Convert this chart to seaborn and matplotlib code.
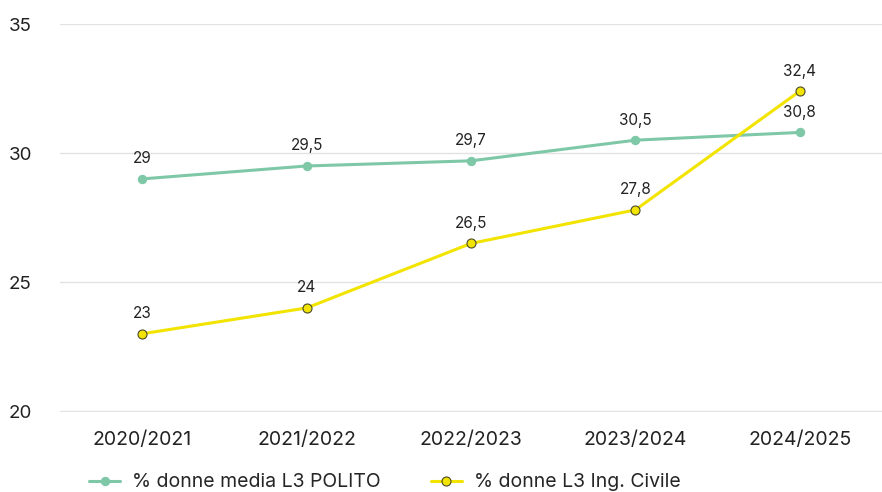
import pandas as pd
import seaborn as sns
import matplotlib.pyplot as plt

anni = ["2020/2021", "2021/2022", "2022/2023", "2023/2024", "2024/2025"]
polito = [29, 29.5, 29.7, 30.5, 30.8]
civile = [23, 24, 26.5, 27.8, 32.4]

sns.set_style("white")
plt.rcParams['font.family'] = ['Inter', 'DejaVu Sans']

fig = plt.figure(figsize=(8.82, 4.92), dpi=100)
ax = fig.add_axes([0.068, 0.1626, 0.932, 0.7886])

x = list(range(len(anni)))
sns.lineplot(x=x, y=polito, ax=ax, color="#7ec8a8", linewidth=2.2, marker="o",
             markersize=6, markeredgecolor="#7ec8a8", label="% donne media L3 POLITO")
sns.lineplot(x=x, y=civile, ax=ax, color="#f2e400", linewidth=2.2, marker="o",
             markersize=6.5, markeredgecolor="#4a4a2a", markeredgewidth=0.8,
             label="% donne L3 Ing. Civile")

for xi, v in zip(x, polito):
    ax.annotate(f"{v:g}".replace(".", ","), (xi, v), xytext=(0, 9), textcoords="offset points",
                ha="center", va="bottom", fontsize=11, color="#222222")
for xi, v in zip(x, civile):
    ax.annotate(f"{v:g}".replace(".", ","), (xi, v), xytext=(0, 9), textcoords="offset points",
                ha="center", va="bottom", fontsize=11, color="#222222")

ax.set_xlim(-0.5, 4.5)
ax.set_ylim(19.97, 35)
ax.set_yticks([20, 25, 30, 35])
ax.set_xticks(x)
ax.set_xticklabels(anni)
ax.grid(axis="y", color="#e2e2e2", linewidth=1)
ax.set_axisbelow(True)
for s in ax.spines.values():
    s.set_visible(False)
ax.tick_params(axis="y", length=0, pad=37, labelsize=13.5, colors="#222222")
ax.tick_params(axis="x", length=0, pad=14, labelsize=14, colors="#222222")
for t in ax.get_yticklabels():
    t.set_horizontalalignment("left")

ax.legend(loc="lower left", bbox_to_anchor=(0.014, -0.25), ncol=2, frameon=False,
          fontsize=14, handlelength=1.6, columnspacing=2.6, handletextpad=0.6)

fig.savefig("out.png", dpi=100)
